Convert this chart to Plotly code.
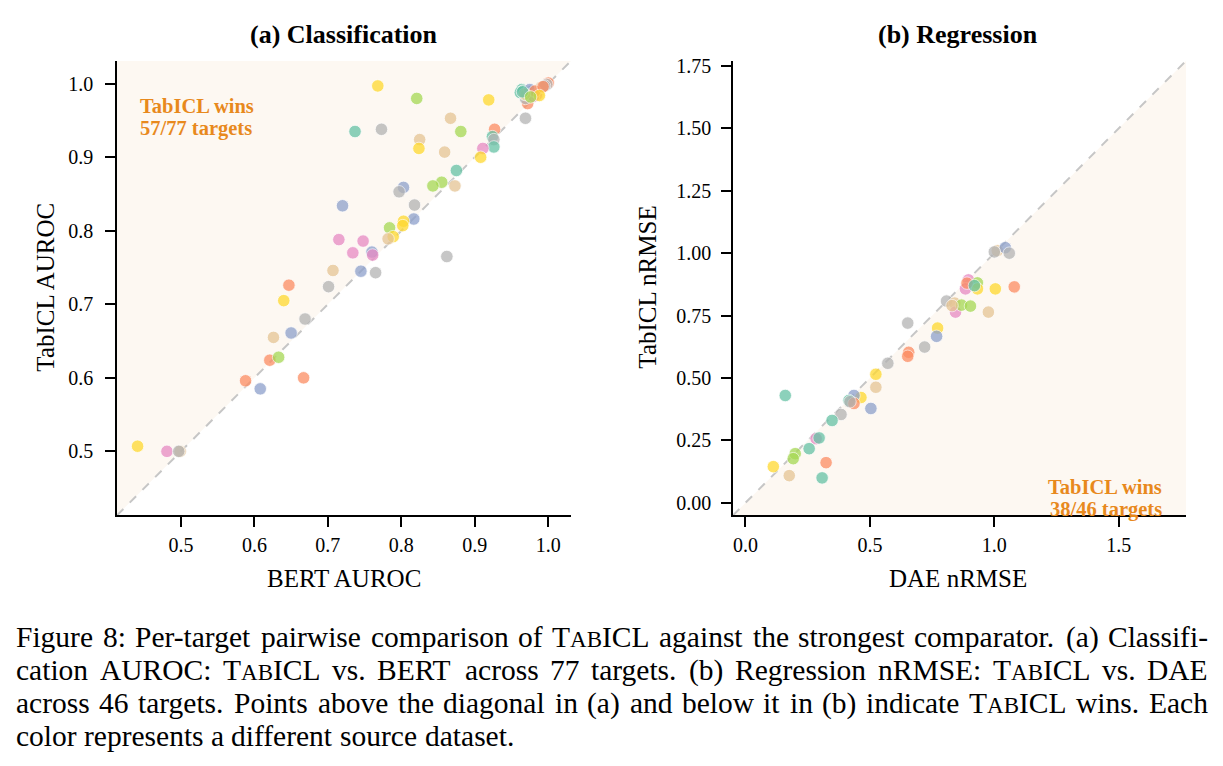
import plotly.graph_objects as go

# ---------------- data ----------------
palette = ["#66c2a5", "#fc8d62", "#8da0cb", "#e78ac3", "#a6d854", "#ffd92f", "#e5c494", "#b3b3b3"]
# source index: 0 teal, 1 orange, 2 blue, 3 pink, 4 green, 5 yellow, 6 tan, 7 gray

cls_bert = [0.441, 0.481, 0.499, 0.497, 0.647, 0.701, 0.640, 0.669, 0.626, 0.650,
            0.621, 0.633, 0.588, 0.608, 0.667, 0.720, 0.715, 0.707, 0.768, 0.821,
            0.919, 0.964, 1.000, 0.998, 0.986, 0.984, 0.972, 0.969, 0.969, 0.972,
            0.978, 0.737, 0.773, 0.867, 0.881, 0.825, 0.824, 0.859, 0.927, 0.924,
            0.926, 0.926, 0.911, 0.908, 0.875, 0.855, 0.843, 0.873, 0.803, 0.797,
            0.818, 0.817, 0.803, 0.802, 0.784, 0.789, 0.782, 0.748, 0.734, 0.760,
            0.761, 0.745, 0.765, 0.862, 0.962, 0.966, 0.970, 0.975, 0.980, 0.990,
            0.995, 0.982, 0.968, 0.965, 0.993, 0.988, 0.976]
cls_tabicl = [0.507, 0.500, 0.500, 0.500, 0.726, 0.724, 0.705, 0.680, 0.655, 0.661,
              0.624, 0.628, 0.596, 0.585, 0.600, 0.834, 0.788, 0.746, 0.997, 0.980,
              0.978, 0.992, 1.001, 0.999, 0.986, 0.985, 0.973, 0.980, 0.953, 0.989,
              0.990, 0.935, 0.938, 0.953, 0.935, 0.924, 0.912, 0.907, 0.938, 0.928,
              0.924, 0.914, 0.912, 0.900, 0.882, 0.866, 0.861, 0.861, 0.859, 0.853,
              0.835, 0.816, 0.813, 0.807, 0.804, 0.792, 0.789, 0.786, 0.770, 0.771,
              0.767, 0.745, 0.743, 0.765, 0.988, 0.990, 0.985, 0.992, 0.983, 0.995,
              0.997, 0.990, 0.986, 0.989, 0.996, 0.984, 0.982]
cls_src = [5, 3, 6, 7, 1, 7, 5, 7, 6, 2,
           1, 4, 1, 2, 1, 2, 3, 6, 5, 4,
           5, 0, 1, 7, 5, 3, 1, 7, 7, 6,
           2, 0, 7, 6, 4, 6, 5, 6, 1, 0,
           7, 0, 3, 5, 0, 4, 4, 6, 2, 7,
           7, 2, 5, 5, 4, 5, 6, 3, 3, 2,
           3, 2, 7, 7, 0, 0, 4, 2, 3, 6,
           7, 1, 6, 0, 1, 5, 4]

reg_dae = [0.160, 0.808, 0.841, 0.844, 0.652, 0.772, 0.768, 0.720, 0.656, 0.652,
           0.572, 0.524, 0.524, 0.464, 0.436, 0.416, 0.436, 0.504, 0.384, 0.348,
           0.284, 0.296, 0.256, 0.200, 0.192, 0.112, 0.176, 0.324, 0.308, 1.012,
           1.044, 1.060, 0.896, 0.884, 0.932, 0.932, 1.004, 1.080, 0.868, 0.904,
           0.976, 0.890, 0.920, 0.830, 0.420, 1.000]
reg_tabicl = [0.430, 0.808, 0.800, 0.764, 0.720, 0.700, 0.667, 0.624, 0.603, 0.587,
              0.559, 0.515, 0.463, 0.422, 0.430, 0.410, 0.398, 0.378, 0.354, 0.330,
              0.257, 0.260, 0.217, 0.197, 0.177, 0.145, 0.109, 0.161, 0.100, 1.010,
              1.022, 1.000, 0.893, 0.857, 0.881, 0.857, 0.857, 0.865, 0.792, 0.788,
              0.764, 0.880, 0.870, 0.790, 0.405, 1.005]
reg_src = [0, 7, 6, 3, 7, 5, 2, 7, 1, 1,
           7, 5, 6, 5, 2, 0, 1, 2, 7, 0,
           3, 0, 0, 4, 4, 5, 6, 1, 0, 6,
           2, 7, 3, 3, 4, 5, 5, 1, 4, 4,
           6, 1, 0, 6, 7, 7]

cls_range = [0.413, 1.031]
reg_range = [-0.05, 1.77]
cls_ticks = [0.5, 0.6, 0.7, 0.8, 0.9, 1.0]
cls_ticktext = ["0.5", "0.6", "0.7", "0.8", "0.9", "1.0"]
reg_xticks = [0.0, 0.5, 1.0, 1.5]
reg_xticktext = ["0.0", "0.5", "1.0", "1.5"]
reg_yticks = [0.0, 0.25, 0.5, 0.75, 1.0, 1.25, 1.5, 1.75]
reg_yticktext = ["0.00", "0.25", "0.50", "0.75", "1.00", "1.25", "1.50", "1.75"]

cls_wins = "57/77"
reg_wins = "38/46"

caption_lines = [
    "Figure 8: Per-target pairwise comparison of TABICL against the strongest comparator. (a) Classifi-",
    "cation AUROC: TABICL vs. BERT across 77 targets. (b) Regression nRMSE: TABICL vs. DAE",
    "across 46 targets. Points above the diagonal in (a) and below it in (b) indicate TABICL wins. Each",
    "color represents a different source dataset.",
]
caption_justified = [True, True, True, False]

# ---------------- helpers ----------------
SERIF = "Liberation Serif, Times New Roman, serif"
SHADE = "#fdf8f2"
WIN = "#e8891d"
W, H = 1223, 766
Y0, HH = 5.0, 761.0   # observed vertical extent of the paper in the screenshot


def px(x):
    return x / W


def py(y):
    return 1 - (y - Y0) / HH


# Times-Roman advance widths (1/1000 em) for caption layout
TW = {' ': 250, '!': 333, '(': 333, ')': 333, ',': 250, '-': 333, '.': 250, '/': 278, ':': 278, ';': 278}
TW.update({d: 500 for d in "0123456789"})
TW.update(dict(zip("ABCDEFGHIJKLMNOPQRSTUVWXYZ",
                   [722, 667, 667, 722, 611, 556, 722, 722, 333, 389, 722, 611, 889, 722, 722, 556,
                    722, 667, 556, 611, 722, 722, 944, 722, 722, 611])))
TW.update(dict(zip("abcdefghijklmnopqrstuvwxyz",
                   [444, 500, 444, 500, 444, 333, 500, 500, 278, 278, 500, 278, 778, 500, 500, 500,
                    500, 333, 389, 278, 500, 500, 722, 500, 500, 444])))
CAP_SIZE = 29.5
SC = 0.78


def word_html(w):
    if w == "TABICL":
        return "T<span style='font-size:%.1fpx'>AB</span>ICL" % (CAP_SIZE * SC)
    return w


def word_width(w):
    if w == "TABICL":
        return CAP_SIZE * (611 + SC * (722 + 667) + 333 + 667 + 611) / 1000
    return CAP_SIZE * sum(TW.get(c, 500) for c in w) / 1000


# ---------------- figure ----------------
fig = go.Figure()

lo, hi = cls_range
fig.add_trace(go.Scatter(x=[lo, lo, hi, lo], y=[lo, hi, hi, lo], fill="toself", fillcolor=SHADE,
                         line=dict(width=0), mode="lines", hoverinfo="skip", showlegend=False,
                         xaxis="x", yaxis="y"))
fig.add_trace(go.Scatter(x=[lo, hi], y=[lo, hi], mode="lines",
                         line=dict(color="#c6c6c6", width=2, dash="dash"),
                         showlegend=False, xaxis="x", yaxis="y"))
fig.add_trace(go.Scatter(x=cls_bert, y=cls_tabicl, mode="markers",
                         marker=dict(size=12.5, color=[palette[i] for i in cls_src], opacity=0.75,
                                     line=dict(color="white", width=0.8)),
                         showlegend=False, xaxis="x", yaxis="y"))

lo2, hi2 = reg_range
fig.add_trace(go.Scatter(x=[lo2, hi2, hi2, lo2], y=[lo2, lo2, hi2, lo2], fill="toself", fillcolor=SHADE,
                         line=dict(width=0), mode="lines", hoverinfo="skip", showlegend=False,
                         xaxis="x2", yaxis="y2"))
fig.add_trace(go.Scatter(x=[lo2, hi2], y=[lo2, hi2], mode="lines",
                         line=dict(color="#c6c6c6", width=2, dash="dash"),
                         showlegend=False, xaxis="x2", yaxis="y2"))
fig.add_trace(go.Scatter(x=reg_dae, y=reg_tabicl, mode="markers",
                         marker=dict(size=12.5, color=[palette[i] for i in reg_src], opacity=0.75,
                                     line=dict(color="white", width=0.8)),
                         showlegend=False, xaxis="x2", yaxis="y2"))

axis_common = dict(showline=True, linecolor="black", linewidth=1.6, ticks="outside", ticklen=10,
                   tickwidth=1.6, tickcolor="black", showgrid=False, zeroline=False,
                   tickfont=dict(family=SERIF, size=20, color="black"), mirror=False)

fig.update_layout(
    width=W, height=H, margin=dict(l=0, r=0, t=0, b=0),
    paper_bgcolor="white", plot_bgcolor="white",
    xaxis=dict(axis_common, domain=[px(117), px(571)], range=cls_range, anchor="y",
               tickvals=cls_ticks, ticktext=cls_ticktext, ticklabelstandoff=1),
    yaxis=dict(axis_common, domain=[py(515), py(60)], range=cls_range, anchor="x",
               tickvals=cls_ticks, ticktext=cls_ticktext, ticklabelstandoff=8),
    xaxis2=dict(axis_common, domain=[px(733), px(1186)], range=reg_range, anchor="y2",
                tickvals=reg_xticks, ticktext=reg_xticktext, ticklabelstandoff=1),
    yaxis2=dict(axis_common, domain=[py(515), py(60)], range=reg_range, anchor="x2",
                tickvals=reg_yticks, ticktext=reg_yticktext, ticklabelstandoff=6),
)


def txt(text, x, y, size, color="black", xanchor="center", yanchor="middle", angle=0):
    return dict(text=text, x=px(x), y=py(y), xref="paper", yref="paper", showarrow=False,
                xanchor=xanchor, yanchor=yanchor, textangle=angle, borderpad=0,
                font=dict(family=SERIF, size=size, color=color))


ann = [
    txt("<b>(a) Classification</b>", 344, 34, 26),
    txt("<b>(b) Regression</b>", 958, 34, 26),
    txt("BERT AUROC", 344, 578, 25),
    txt("DAE nRMSE", 958, 578, 25),
    txt("TabICL AUROC", 46, 287, 25, angle=-90),
    txt("TabICL nRMSE", 648, 287, 25, angle=-90),
    txt("<b>TabICL wins</b>", 139, 105, 20.5, WIN, xanchor="left"),
    txt(f"<b>{cls_wins} targets</b>", 139, 128, 20.5, WIN, xanchor="left"),
    txt("<b>TabICL wins</b>", 1163, 487, 20.5, WIN, xanchor="right"),
    txt(f"<b>{reg_wins} targets</b>", 1163, 509, 20.5, WIN, xanchor="right"),
]

CAP_LEFT, CAP_RIGHT = 15, 1207
for i, (line, just) in enumerate(zip(caption_lines, caption_justified)):
    ycap = 637 + 33 * i
    words = line.split(" ")
    widths = [word_width(w) for w in words]
    if just and len(words) > 1:
        gap = max((CAP_RIGHT - CAP_LEFT - sum(widths)) / (len(words) - 1), CAP_SIZE * 0.15)
    else:
        gap = CAP_SIZE * 0.25
    xpos = CAP_LEFT
    for w, wd in zip(words, widths):
        ann.append(txt(word_html(w), xpos, ycap, CAP_SIZE, xanchor="left"))
        xpos += wd + gap

fig.update_layout(annotations=ann)

fig.write_html("out.html")
